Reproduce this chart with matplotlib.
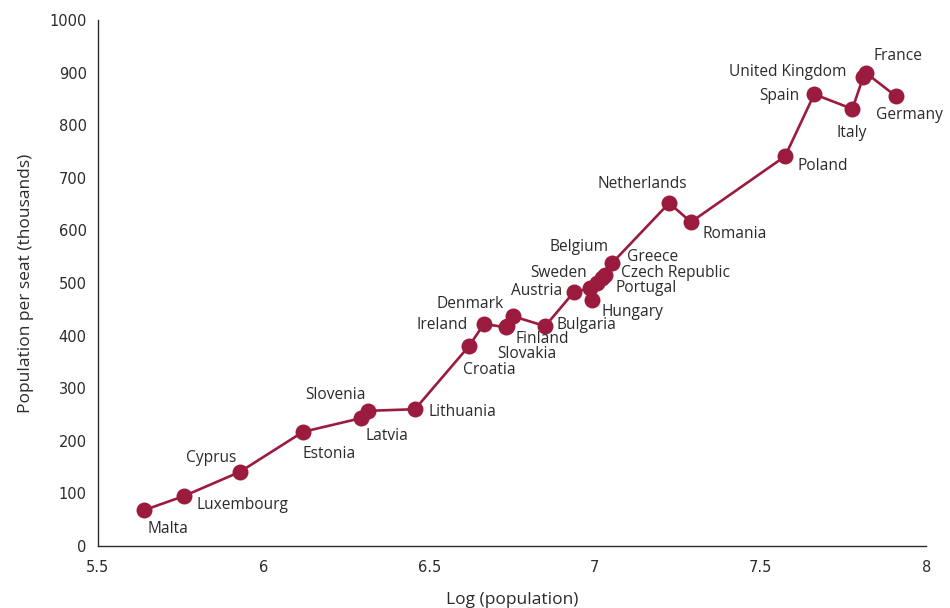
import matplotlib.pyplot as plt
import numpy as np

countries = ["Malta", "Luxembourg", "Cyprus", "Estonia", "Latvia", "Slovenia",
             "Lithuania", "Croatia", "Ireland", "Slovakia", "Finland", "Denmark",
             "Bulgaria", "Austria", "Sweden", "Hungary", "Portugal",
             "Czech Republic", "Greece", "Belgium", "Netherlands", "Romania",
             "Poland", "Spain", "Italy", "United Kingdom", "France", "Germany"]
log_pop = [5.639, 5.760, 5.929, 6.119, 6.294, 6.315,
           6.457, 6.620, 6.665, 6.731, 6.736, 6.752,
           6.850, 6.937, 6.985, 6.991, 7.007,
           7.022, 7.031, 7.052, 7.224, 7.290,
           7.574, 7.662, 7.777, 7.810, 7.819, 7.909]
pop_per_seat = [68, 95, 141, 217, 243, 257,
                260, 380, 422, 416, 418, 437,
                418, 483, 490, 468, 500,
                510, 515, 538, 652, 616,
                741, 859, 831, 892, 899, 855]

# label offsets in pixels (dx, dy, ha)
offsets = {
    "Malta": (4, -19, "left"), "Luxembourg": (12, -9, "left"),
    "Cyprus": (-4, 14, "right"), "Estonia": (0, -22, "left"),
    "Latvia": (5, -18, "left"), "Slovenia": (-2, 16, "right"),
    "Lithuania": (14, -3, "left"), "Croatia": (-6, -24, "left"),
    "Ireland": (-16, -1, "right"), "Denmark": (-9, 12, "right"),
    "Finland": (8, -13, "left"), "Slovakia": (-9, -27, "left"),
    "Bulgaria": (11, 1, "left"), "Austria": (-12, 1, "right"),
    "Sweden": (-3, 15, "right"), "Hungary": (10, -12, "left"),
    "Portugal": (18, -5, "left"), "Czech Republic": (19, 5, "left"),
    "Greece": (22, 18, "left"), "Belgium": (-4, 16, "right"),
    "Netherlands": (-27, 19, "center"), "Romania": (12, -12, "left"),
    "Poland": (12, -10, "left"), "Spain": (-15, -2, "right"),
    "Italy": (-1, -24, "center"), "United Kingdom": (-17, 5, "right"),
    "France": (7, 17, "left"), "Germany": (-20, -19, "left"),
}

red = "#9b1b3f"
dark = "#2b2b2b"
lab_font = "Open Sans"

fig = plt.figure(figsize=(9.5, 6.08), dpi=100)
ax = fig.add_axes([0.103, 0.102, 0.872, 0.865])

ax.plot(log_pop, pop_per_seat, color=red, lw=1.9, marker="o", ms=11.5,
        markeredgewidth=0, zorder=3)

for name, x, y in zip(countries, log_pop, pop_per_seat):
    dx, dy, ha = offsets[name]
    ax.annotate(name, (x, y), xytext=(dx, dy), textcoords="offset pixels",
                ha=ha, va="center", fontsize=11.2, family=lab_font, color=dark)

ax.set_xlim(5.5, 8)
ax.set_ylim(0, 1000)
ax.set_xticks([5.5, 6, 6.5, 7, 7.5, 8])
ax.set_xticklabels(["5.5", "6", "6.5", "7", "7.5", "8"])
ax.set_yticks(np.arange(0, 1001, 100))
ax.tick_params(length=0, labelsize=10.5, labelcolor=dark)
ax.tick_params(axis="x", pad=10)
ax.tick_params(axis="y", pad=8)

for s in ["top", "right"]:
    ax.spines[s].set_visible(False)
for s in ["left", "bottom"]:
    ax.spines[s].set_color(dark)
    ax.spines[s].set_linewidth(1.0)

ax.set_xlabel("Log (population)", family=lab_font, fontsize=12.5, color=dark, labelpad=12)
ax.set_ylabel("Population per seat (thousands)", family=lab_font, fontsize=12.5,
              color=dark, labelpad=11)

fig.savefig("out.png", dpi=100)
